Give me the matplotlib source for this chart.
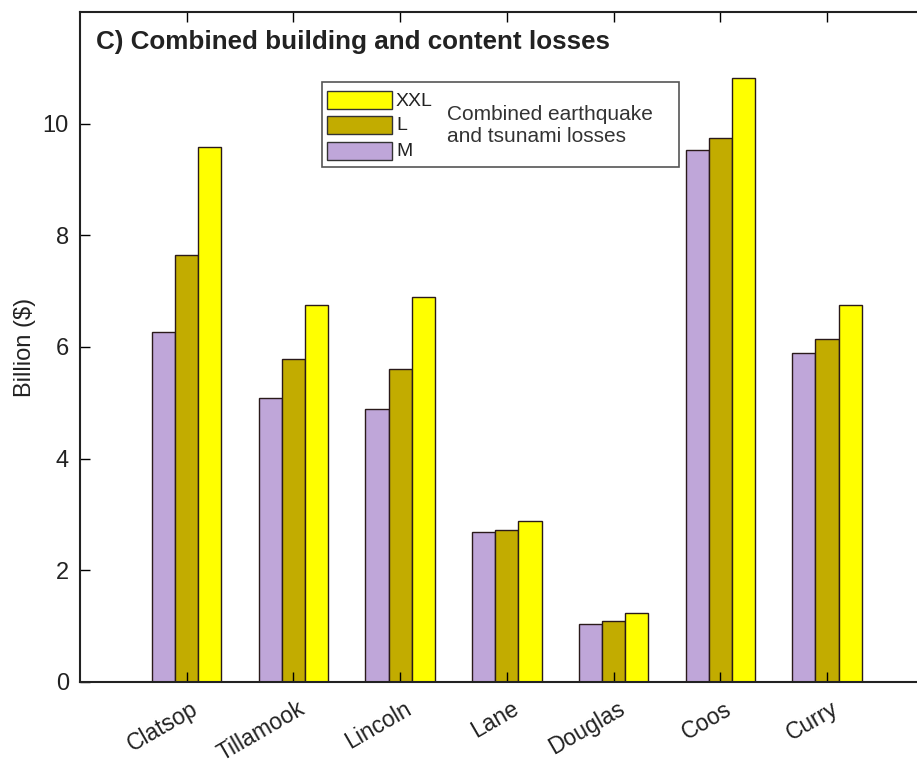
import matplotlib
matplotlib.use("Agg")
import matplotlib.pyplot as plt
import matplotlib.transforms as mtransforms
import numpy as np
from matplotlib.patches import Rectangle

plt.rcParams['font.family'] = ['Liberation Sans', 'DejaVu Sans']

counties = ["Clatsop", "Tillamook", "Lincoln", "Lane", "Douglas", "Coos", "Curry"]
loss_M = [6.26, 5.08, 4.88, 2.68, 1.04, 9.52, 5.90]
loss_L = [7.64, 5.78, 5.60, 2.72, 1.09, 9.75, 6.14]
loss_XXL = [9.59, 6.76, 6.90, 2.88, 1.23, 10.82, 6.76]
series_names = ["M", "L", "XXL"]
colors = {"M": "#BFA6D9", "L": "#C2AC00", "XXL": "#FFFF00"}

fig = plt.figure(figsize=(9.17, 7.66), dpi=100)
ax = fig.add_axes([0.0872, 0.1097, 0.931, 0.8747])

x = np.arange(1, len(counties) + 1)
w = 0.217
for i, (name, vals) in enumerate(zip(series_names, [loss_M, loss_L, loss_XXL])):
    ax.bar(x + (i - 1) * w, vals, width=w, color=colors[name],
           edgecolor="#2a1a1a", linewidth=1.0, label=name)

ax.set_xlim(0, 8)
ax.set_ylim(0, 12)
ax.set_yticks([0, 2, 4, 6, 8, 10])
ax.set_xticks(x)
ax.set_xticklabels(counties, rotation=30, ha="right", va="top", rotation_mode="anchor",
                   fontsize=16.5, color="#222222")
ax.tick_params(axis="both", direction="in", top=True, right=True, length=7, width=1,
               labelsize=17, labelcolor="#222222")
ax.tick_params(axis="x", pad=11, labelsize=16.5)
ax.tick_params(axis="y", pad=8)
offset = mtransforms.ScaledTranslation(4 / 100, 0, fig.dpi_scale_trans)
for lab in ax.get_xticklabels():
    lab.set_transform(lab.get_transform() + offset)
for s in ax.spines.values():
    s.set_linewidth(1.5)
    s.set_color("#222222")

def fx(px):
    return px / 917
def fy(py):
    return 1 - py / 766

fig.text(fx(25), fy(347), "Billion ($)", rotation=90, fontsize=17, color="#222222",
         va="center", ha="center")

ax.text(0.019, 0.955, "C) Combined building and content losses", transform=ax.transAxes,
        fontsize=18.75, fontweight="bold", va="center", ha="left", color="#222222")

# custom legend box
fig.patches.append(Rectangle((fx(322), fy(167)), fx(679) - fx(322), fy(82) - fy(167),
                             transform=fig.transFigure, facecolor="white",
                             edgecolor="#555555", linewidth=1.2, zorder=5))
leg_rows = [("XXL", 100), ("L", 125), ("M", 151)]
for name, yc in leg_rows:
    fig.patches.append(Rectangle((fx(327), fy(yc + 9)), fx(392) - fx(327), fy(yc - 9) - fy(yc + 9),
                                 transform=fig.transFigure, facecolor=colors[name],
                                 edgecolor="#333333", linewidth=1.0, zorder=6))
    fig.text(fx(396), fy(yc + 1), name, fontsize=14, va="center", ha="left", zorder=7,
             color="#222222")
fig.text(fx(447), fy(115), "Combined earthquake", fontsize=15,
         va="center", ha="left", color="#333333", zorder=7)
fig.text(fx(447), fy(137), "and tsunami losses", fontsize=15,
         va="center", ha="left", color="#333333", zorder=7)

fig.savefig("out.png", dpi=100)
